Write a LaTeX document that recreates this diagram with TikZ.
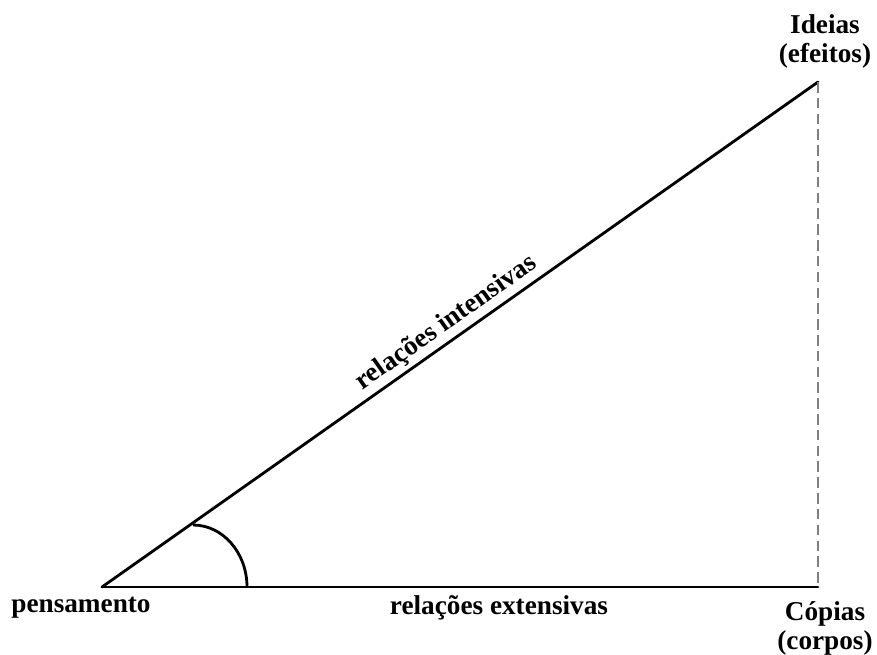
\documentclass[tikz,border=0pt]{standalone}
\usepackage{fontspec}
\setmainfont{Liberation Serif}
\usepackage{xcolor}
\usetikzlibrary{positioning,calc}

\begin{document}
\begin{tikzpicture}[x=0.02cm, y=-0.02cm,
    lbl/.style={font=\fontsize{15.5}{17}\selectfont\bfseries, inner sep=0pt, align=center},
    side/.style={line width=1.6pt, line cap=round},
    proj/.style={line width=1.3pt, gray, dash pattern=on 6pt off 3pt}]

% Frame
\useasboundingbox (0, 0) rectangle (877, 655);

% Corners
\coordinate (pens) at (102, 587);
\coordinate (idea) at (818, 82);
\coordinate (copia) at (818, 587);

% Sides of the triangle
\draw[side] (pens) -- (idea) node[pos=0.495, sloped, above=2pt, lbl] (intens) {rela\c{c}\~oes intensivas};
\draw[side] (pens) -- (copia);
\draw[proj] (idea) -- (copia);

% Angle mark
\coordinate (arcstart) at (193, 525);
\draw[line width=1.6pt] (arcstart) arc[start angle=-90, end angle=0, x radius=54, y radius=62];

% Labels (base = last line)
\node[lbl, anchor=base] (pensam) at (81, 613) {pensamento};
\node[lbl, anchor=base] (extens) at (499, 615) {rela\c{c}\~oes extensivas};
\node[lbl, anchor=base] (ideias) at (825, 63) {Ideias\\(efeitos)};
\node[lbl, anchor=base] (copias) at (825, 650) {C\'opias\\(corpos)};

\end{tikzpicture}
\end{document}
